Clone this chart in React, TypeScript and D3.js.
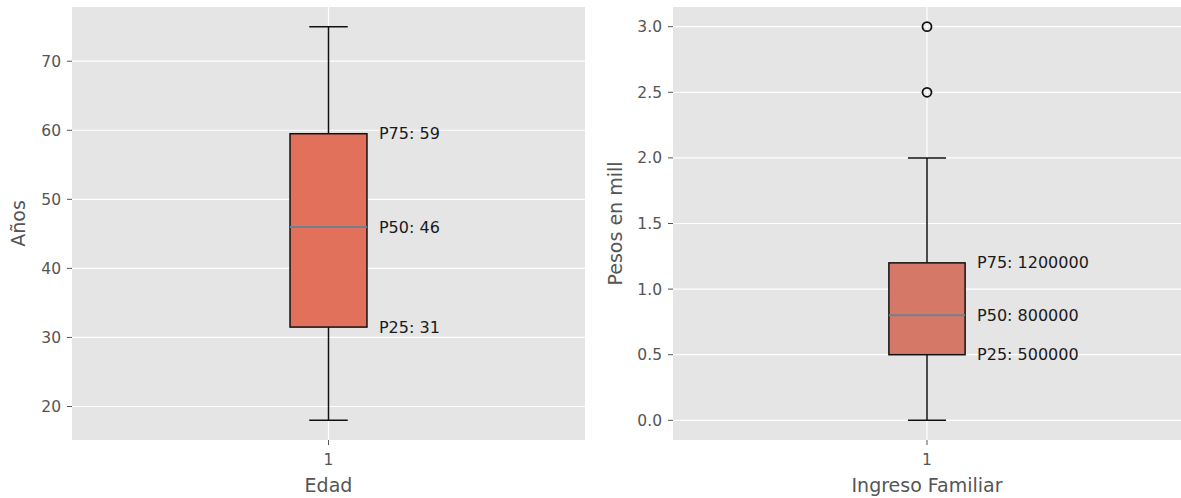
import { useRef, useEffect } from "react";
import * as d3 from "d3";

// two boxplot panels
const panelNames = ["Edad", "Ingreso Familiar"];
const yLabels = ["Años", "Pesos en mill"];
const whiskerLow = [18, 0];
const q1Values = [31.5, 0.5];
const medianValues = [46, 0.8];
const q3Values = [59.5, 1.2];
const whiskerHigh = [75, 2.0];
const outlierValues = [[], [2.5, 3.0]];
const yTicks = [
  [20, 30, 40, 50, 60, 70],
  [0, 0.5, 1.0, 1.5, 2.0, 2.5, 3.0],
];
const labelQ3 = ["P75: 59", "P75: 1200000"];
const labelMedian = ["P50: 46", "P50: 800000"];
const labelQ1 = ["P25: 31", "P25: 500000"];
const boxColors = ["#E2715B", "#D67867"];

const W = 1181;
const H = 498;
const panelX = [
  [72, 585],
  [673, 1181],
];
const panelTop = 7;
const panelBottom = 440;

export default function App() {
  const svgRef = useRef<SVGSVGElement>(null);

  useEffect(() => {
    if (!svgRef.current) return;
    const svg = d3.select(svgRef.current);
    svg.selectAll("*").remove();
    const font = "DejaVu Sans, sans-serif";

    panelNames.forEach((name, i) => {
      const [x0, x1] = panelX[i];
      const allVals = [whiskerLow[i], whiskerHigh[i], ...outlierValues[i]];
      const lo = d3.min(allVals) as number;
      const hi = d3.max(allVals) as number;
      const pad = (hi - lo) * 0.05;

      const x = d3.scaleLinear().domain([0.5, 1.5]).range([x0, x1]);
      const y = d3
        .scaleLinear()
        .domain([lo - pad, hi + pad])
        .range([panelBottom, panelTop]);

      const g = svg.append("g");

      g.append("rect")
        .attr("x", x0)
        .attr("y", panelTop)
        .attr("width", x1 - x0)
        .attr("height", panelBottom - panelTop)
        .attr("fill", "#E5E5E5");

      // grid
      g.selectAll(".hgrid")
        .data(yTicks[i])
        .join("line")
        .attr("x1", x0)
        .attr("x2", x1)
        .attr("y1", (d) => y(d))
        .attr("y2", (d) => y(d))
        .attr("stroke", "#fff")
        .attr("stroke-width", 1.2);
      g.append("line")
        .attr("x1", x(1))
        .attr("x2", x(1))
        .attr("y1", panelTop)
        .attr("y2", panelBottom)
        .attr("stroke", "#fff")
        .attr("stroke-width", 1.2);

      // y ticks
      g.selectAll(".ytick")
        .data(yTicks[i])
        .join("line")
        .attr("x1", x0 - 5)
        .attr("x2", x0)
        .attr("y1", (d) => y(d))
        .attr("y2", (d) => y(d))
        .attr("stroke", "#555");
      g.selectAll(".ylab")
        .data(yTicks[i])
        .join("text")
        .attr("x", x0 - 11)
        .attr("y", (d) => y(d))
        .attr("dy", "0.35em")
        .attr("text-anchor", "end")
        .attr("font-family", font)
        .attr("font-size", 15.5)
        .attr("fill", "#555")
        .text((d) => (i === 1 ? d3.format(".1f")(d) : String(d)));

      // x tick
      g.append("line")
        .attr("x1", x(1))
        .attr("x2", x(1))
        .attr("y1", panelBottom)
        .attr("y2", panelBottom + 5)
        .attr("stroke", "#555");
      g.append("text")
        .attr("x", x(1))
        .attr("y", panelBottom + 20)
        .attr("dy", "0.35em")
        .attr("text-anchor", "middle")
        .attr("font-family", font)
        .attr("font-size", 15.5)
        .attr("fill", "#555")
        .text("1");

      // axis labels
      g.append("text")
        .attr("x", (x0 + x1) / 2)
        .attr("y", panelBottom + 45)
        .attr("dy", "0.35em")
        .attr("text-anchor", "middle")
        .attr("font-family", font)
        .attr("font-size", 19)
        .attr("fill", "#555")
        .text(name);
      const yl = x0 - (i === 0 ? 54 : 58);
      g.append("text")
        .attr("transform", `translate(${yl},${(panelTop + panelBottom) / 2}) rotate(-90)`)
        .attr("dy", "0.35em")
        .attr("text-anchor", "middle")
        .attr("font-family", font)
        .attr("font-size", 19)
        .attr("fill", "#555")
        .text(yLabels[i]);

      // whiskers
      const cx = x(1);
      const capHalf = x(1.0375) - cx;
      const boxHalf = x(1.075) - cx;
      g.append("line")
        .attr("x1", cx).attr("x2", cx)
        .attr("y1", y(q3Values[i])).attr("y2", y(whiskerHigh[i]))
        .attr("stroke", "#111").attr("stroke-width", 1.5);
      g.append("line")
        .attr("x1", cx).attr("x2", cx)
        .attr("y1", y(q1Values[i])).attr("y2", y(whiskerLow[i]))
        .attr("stroke", "#111").attr("stroke-width", 1.5);
      [whiskerLow[i], whiskerHigh[i]].forEach((v) => {
        g.append("line")
          .attr("x1", cx - capHalf).attr("x2", cx + capHalf)
          .attr("y1", y(v)).attr("y2", y(v))
          .attr("stroke", "#111").attr("stroke-width", 1.5);
      });

      // box
      g.append("rect")
        .attr("x", cx - boxHalf)
        .attr("y", y(q3Values[i]))
        .attr("width", boxHalf * 2)
        .attr("height", y(q1Values[i]) - y(q3Values[i]))
        .attr("fill", boxColors[i])
        .attr("stroke", "#111")
        .attr("stroke-width", 1.5);
      g.append("line")
        .attr("x1", cx - boxHalf).attr("x2", cx + boxHalf)
        .attr("y1", y(medianValues[i])).attr("y2", y(medianValues[i]))
        .attr("stroke", "#71808F").attr("stroke-width", 2);

      // outliers
      g.selectAll(".out")
        .data(outlierValues[i])
        .join("circle")
        .attr("cx", cx)
        .attr("cy", (d) => y(d))
        .attr("r", 4.5)
        .attr("fill", "none")
        .attr("stroke", "#111")
        .attr("stroke-width", 1.8);

      // percentile labels
      const tx = cx + boxHalf + 12;
      [
        [q3Values[i], labelQ3[i]],
        [medianValues[i], labelMedian[i]],
        [q1Values[i], labelQ1[i]],
      ].forEach(([v, t]) => {
        g.append("text")
          .attr("x", tx)
          .attr("y", y(v as number))
          .attr("dy", "0.35em")
          .attr("font-family", font)
          .attr("font-size", 16)
          .attr("fill", "#1a1a1a")
          .text(t as string);
      });
    });
  }, []);

  return (
    <div style={{ position: "absolute", left: 0, top: 0, background: "#fff" }}>
      <svg ref={svgRef} width={W} height={H} />
    </div>
  );
}
